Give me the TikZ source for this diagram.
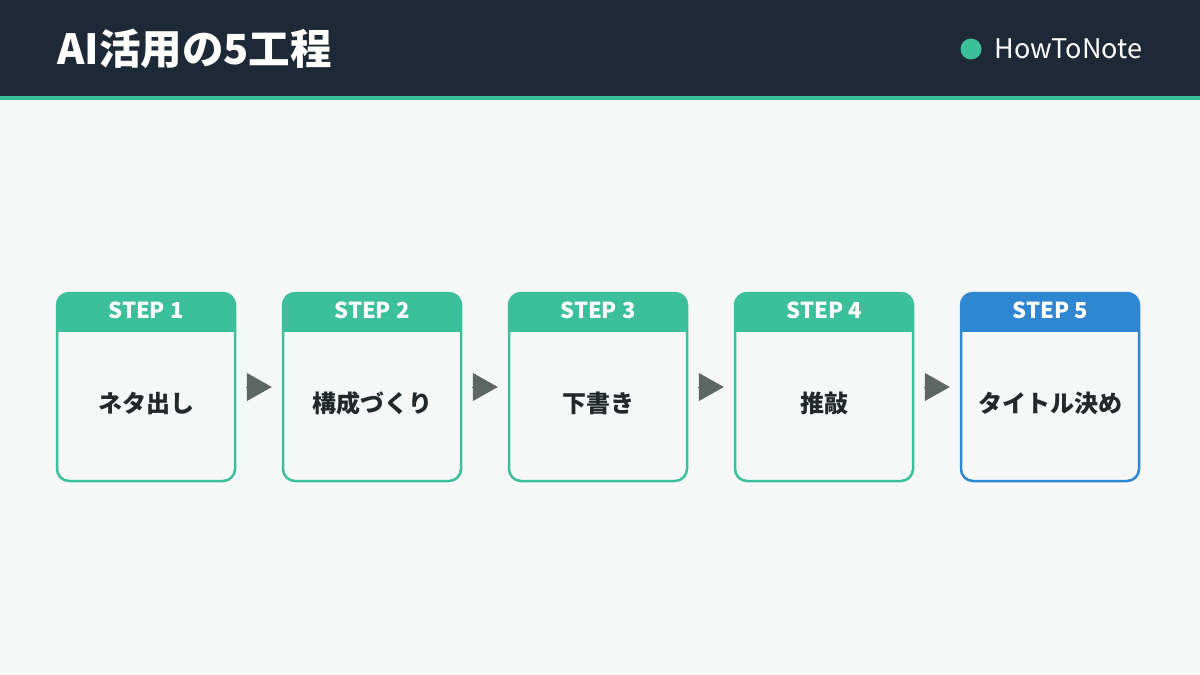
\documentclass[tikz,border=0pt]{standalone}
\usepackage{fontspec}
\setmainfont{Noto Sans CJK JP}
\usetikzlibrary{arrows.meta,positioning,calc}
\definecolor{headdark}{HTML}{1E2937}
\definecolor{mintgreen}{HTML}{3CC09C}
\definecolor{stepblue}{HTML}{2F86D1}
\definecolor{pagebg}{HTML}{F6F8F7}
\definecolor{tipgray}{HTML}{5C6662}
\definecolor{inkdark}{HTML}{23292B}
\tikzset{
  stepbox/.style={rectangle,rounded corners=12pt,draw=#1,line width=2.5pt,fill=pagebg,minimum width=178pt,minimum height=188pt,
    path picture={\fill[#1,sharp corners] (path picture bounding box.north west) rectangle ([yshift=-39pt]path picture bounding box.north east);}},
  stephead/.style={inner sep=0pt,text=white,font=\fontsize{22pt}{24pt}\selectfont\bfseries},
  stepbody/.style={inner sep=0pt,text=inkdark,font=\fontsize{24pt}{28pt}\selectfont\bfseries},
  next/.style={-{Triangle[length=25pt,width=28pt]},draw=tipgray,fill=tipgray,line width=0.5pt,shorten <=10pt,shorten >=10pt}
}
\begin{document}
\begin{tikzpicture}[x=1pt,y=-1pt]
  % page and title bar
  \useasboundingbox (0,0) rectangle (1200,675);
  \fill[pagebg] (0,0) rectangle (1200,675);
  \fill[headdark] (0,0) rectangle (1200,96);
  \fill[mintgreen] (0,96) rectangle (1200,100);
  \node[anchor=west,inner sep=0pt,text=white,font=\fontsize{41.5pt}{44pt}\selectfont\bfseries] (title) at (57,49) {AI活用の5工程};
  \node[circle,fill=mintgreen,minimum size=21pt,inner sep=0pt] (dot) at (971,49) {};
  \node[right=13pt of dot,inner sep=0pt,text=white,font=\fontsize{27pt}{30pt}\selectfont] (brand) {HowToNote};
  % steps
  \node[stepbox=mintgreen] (s1) at (146,387) {};
  \node[stepbox=mintgreen, right=45.5pt of s1] (s2) {};
  \node[stepbox=mintgreen, right=45.5pt of s2] (s3) {};
  \node[stepbox=mintgreen, right=45.5pt of s3] (s4) {};
  \node[stepbox=stepblue, right=45.5pt of s4] (s5) {};
  \node[stephead] (h1) at ([yshift=-19pt]s1.north) {STEP 1};
  \node[stephead] (h2) at ([yshift=-19pt]s2.north) {STEP 2};
  \node[stephead] (h3) at ([yshift=-19pt]s3.north) {STEP 3};
  \node[stephead] (h4) at ([yshift=-19pt]s4.north) {STEP 4};
  \node[stephead] (h5) at ([yshift=-19pt]s5.north) {STEP 5};
  \node[stepbody] (b1) at ([yshift=-16pt]s1.center) {ネタ出し};
  \node[stepbody] (b2) at ([yshift=-16pt]s2.center) {構成づくり};
  \node[stepbody] (b3) at ([yshift=-16pt]s3.center) {下書き};
  \node[stepbody] (b4) at ([yshift=-16pt]s4.center) {推敲};
  \node[stepbody] (b5) at ([yshift=-16pt]s5.center) {タイトル決め};
  \draw[next] (s1) -- (s2);
  \draw[next] (s2) -- (s3);
  \draw[next] (s3) -- (s4);
  \draw[next] (s4) -- (s5);
\end{tikzpicture}
\end{document}
